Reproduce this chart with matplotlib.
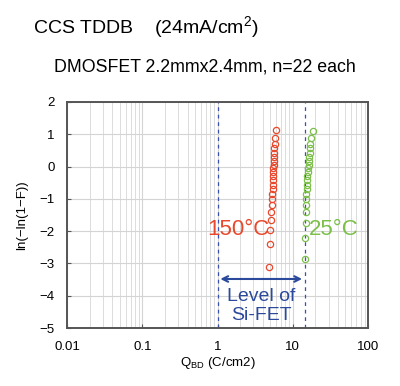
import matplotlib
matplotlib.use('Agg')
import matplotlib.pyplot as plt
from matplotlib.ticker import LogLocator, FixedLocator, NullFormatter

plt.rcParams['font.family'] = ['Liberation Sans', 'DejaVu Sans']

# Weibull plot positions ln(-ln(1-F))
y_150 = [-3.11, -2.40, -1.97, -1.66, -1.41, -1.20, -1.01, -0.85, -0.70, -0.56, -0.43,
         -0.30, -0.18, -0.06, 0.05, 0.17, 0.30, 0.42, 0.56, 0.71, 0.89, 1.14]
q_150 = [4.9, 5.0, 5.05, 5.15, 5.2, 5.25, 5.3, 5.35, 5.4, 5.4, 5.45,
         5.45, 5.5, 5.5, 5.55, 5.55, 5.6, 5.65, 5.7, 5.75, 5.85, 6.05]

y_25 = [-2.87, -2.20, -1.75, -1.42, -1.20, -1.01, -0.85, -0.70, -0.56, -0.43, -0.30,
        -0.18, -0.06, 0.05, 0.17, 0.30, 0.42, 0.56, 0.71, 0.89, 1.11]
q_25 = [14.6, 14.7, 14.8, 14.9, 15.0, 15.1, 15.2, 15.3, 15.4, 15.5, 15.6,
        15.8, 16.0, 16.2, 16.4, 16.6, 16.8, 17.0, 17.2, 17.5, 18.4]

sifet_lo = 1.0
sifet_hi = 14.5

red = '#e8482c'
green = '#7cbf4a'
blue = '#2b4a9b'

fig = plt.figure(figsize=(4.0, 3.86), dpi=100)
ax = fig.add_axes([0.1675, 0.150, 0.7525, 0.586])

ax.set_xscale('log')
ax.set_xlim(0.01, 100)
ax.set_ylim(-5, 2)

ax.xaxis.set_minor_locator(LogLocator(base=10, subs=range(2, 10)))
ax.xaxis.set_minor_formatter(NullFormatter())
ax.yaxis.set_major_locator(FixedLocator(range(-5, 3)))
ax.grid(which='major', axis='both', color='#d4d4d4', lw=0.8)
ax.grid(which='minor', axis='x', color='#dcdcdc', lw=0.7)
ax.set_axisbelow(True)

for s in ax.spines.values():
    s.set_color('#555555')
    s.set_linewidth(1.4)

ax.tick_params(which='both', direction='in', length=3, width=0.8, color='#555555',
               labelsize=9.5, pad=9)
ax.tick_params(which='minor', length=0)
ax.set_xticks([0.01, 0.1, 1, 10, 100])
ax.set_xticklabels(['0.01', '0.1', '1', '10', '100'])

ax.axvline(sifet_lo, color='#3a4fb0', ls=(0, (3, 3)), lw=0.9)
ax.axvline(sifet_hi, color='#3a4fb0', ls=(0, (3, 3)), lw=0.9)

ax.plot(q_150, y_150, 'o', mfc='none', mec=red, ms=4.5, mew=0.9)
ax.plot(q_25, y_25, 'o', mfc='none', mec=green, ms=4.5, mew=0.9)

ax.annotate('', xy=(sifet_lo, -3.48), xytext=(sifet_hi, -3.48),
            arrowprops=dict(arrowstyle='<->', color=blue, lw=1.5))
ax.text((sifet_lo * sifet_hi) ** 0.5, -4.32, 'Level of\nSi-FET', color=blue,
        fontsize=14, ha='center', va='center', linespacing=1.1)

ax.text(0.74, -1.95, '150°C', color=red, fontsize=16, ha='left', va='center')
ax.text(16.6, -1.95, '25°C', color=green, fontsize=16, ha='left', va='center')

ax.set_xlabel(r'Q$_{\mathregular{BD}}$ (C/cm2)', fontsize=9.5, labelpad=2)
ax.set_ylabel('ln(−ln(1−F))', fontsize=9.5, labelpad=8)

fig.text(0.083, 0.928, 'CCS TDDB    (24mA/cm$^{\\mathregular{2}}$)', fontsize=14,
         ha='left', va='center')
fig.text(0.135, 0.826, 'DMOSFET 2.2mmx2.4mm, n=22 each', fontsize=12.8,
         ha='left', va='center')

fig.savefig('out.png', dpi=100)
